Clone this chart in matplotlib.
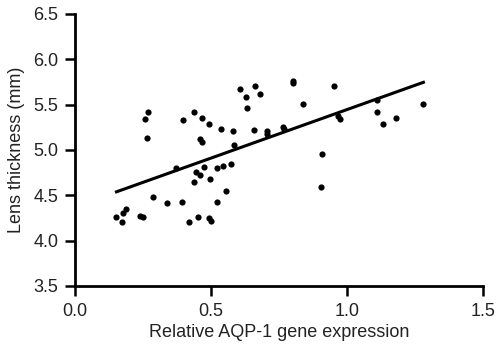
import numpy as np
import matplotlib
matplotlib.use('Agg')
import matplotlib.pyplot as plt

plt.rcParams['font.family'] = ['Liberation Sans', 'DejaVu Sans']

# relative AQP-1 expression vs lens thickness (mm)
aqp1 = [0.153, 0.172, 0.178, 0.188, 0.239, 0.249, 0.258, 0.267, 0.266, 0.288,
        0.337, 0.371, 0.396, 0.395, 0.420, 0.437, 0.438, 0.447, 0.453, 0.460,
        0.466, 0.468, 0.460, 0.475, 0.493, 0.496, 0.494, 0.502, 0.523, 0.523,
        0.536, 0.545, 0.554, 0.572, 0.580, 0.585, 0.607, 0.629, 0.631, 0.657,
        0.663, 0.679, 0.705, 0.705, 0.766, 0.768, 0.803, 0.803, 0.839, 0.903,
        0.910, 0.951, 0.968, 0.974, 1.109, 1.109, 1.133, 1.179, 1.281]
thickness = [4.26, 4.21, 4.31, 4.35, 4.27, 4.26, 5.34, 5.42, 5.13, 4.48,
             4.41, 4.80, 5.33, 4.43, 4.21, 5.42, 4.65, 4.76, 4.26, 5.12,
             5.09, 5.35, 4.72, 4.81, 5.29, 4.68, 4.25, 4.22, 4.80, 4.43,
             5.23, 4.82, 4.55, 4.85, 5.21, 5.05, 5.67, 5.58, 5.46, 5.22,
             5.71, 5.62, 5.21, 5.18, 5.25, 5.23, 5.76, 5.74, 5.51, 4.59,
             4.96, 5.71, 5.37, 5.34, 5.55, 5.42, 5.29, 5.35, 5.51]

x_ticks = [0.0, 0.5, 1.0, 1.5]
y_ticks = [3.5, 4.0, 4.5, 5.0, 5.5, 6.0, 6.5]

x = np.array(aqp1)
y = np.array(thickness)
slope, icept = np.polyfit(x, y, 1)
xl = np.array([x.min(), x.max()])

fig = plt.figure(figsize=(4.99, 3.5), dpi=100)
ax = fig.add_axes([0.150, 0.183, 0.818, 0.777])

ax.scatter(x, y, s=20, color='black', zorder=3, linewidths=0)
ax.plot(xl, slope * xl + icept, color='black', lw=2.2)

ax.set_xlim(0, 1.5)
ax.set_ylim(3.5, 6.5)
ax.set_xticks(x_ticks)
ax.set_yticks(y_ticks)
ax.set_xticklabels(['%.1f' % v for v in x_ticks])
ax.set_yticklabels(['%.1f' % v for v in y_ticks])

for s in ['top', 'right']:
    ax.spines[s].set_visible(False)
for s in ['left', 'bottom']:
    ax.spines[s].set_linewidth(2)
ax.tick_params(direction='out', length=7, width=1.8, labelsize=13, pad=5,
               labelcolor='#222222')

ax.set_xlabel('Relative AQP-1 gene expression', fontsize=13, labelpad=3,
              color='#222222')
ax.set_ylabel('Lens thickness (mm)', fontsize=13, labelpad=6, color='#222222')

fig.savefig('out.png', dpi=100)
